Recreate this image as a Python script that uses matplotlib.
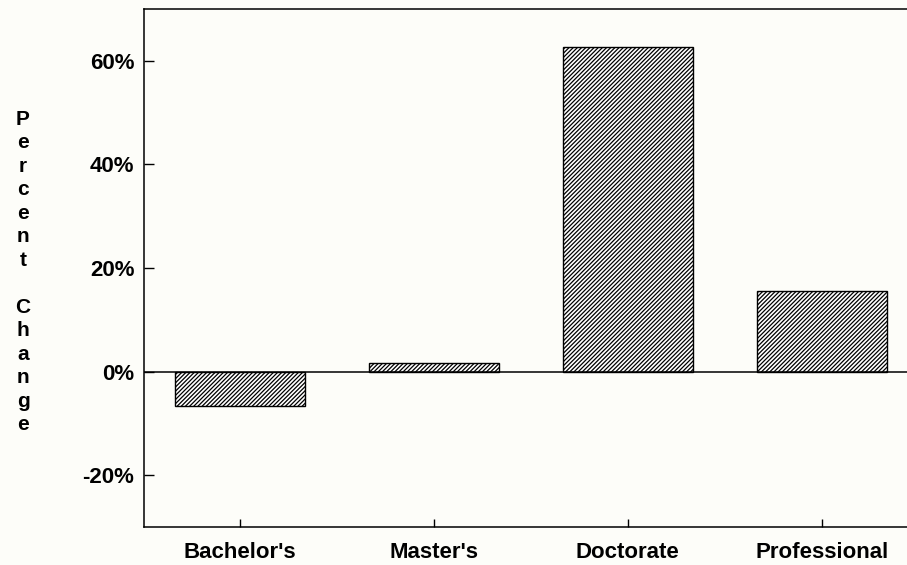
import matplotlib
matplotlib.use("Agg")
import matplotlib.pyplot as plt
from matplotlib.ticker import FuncFormatter

# data
degrees = ["Bachelor's", "Master's", "Doctorate", "Professional"]
pctChange = [-6.7, 1.7, 62.6, 15.6]
yTicks = [-20, 0, 20, 40, 60]

plt.rcParams['font.family'] = ['Liberation Sans', 'DejaVu Sans']
plt.rcParams['font.weight'] = 'bold'
plt.rcParams['hatch.linewidth'] = 0.9

bg = "#fdfdf9"
fig = plt.figure(figsize=(9.07, 5.65), dpi=100, facecolor=bg)
ax = fig.add_axes([144/907, 38/565, 1 - 144/907, 518/565], facecolor=bg)

xs = range(len(degrees))
ax.bar(xs, pctChange, width=0.67, color="white", edgecolor="black",
       linewidth=1.0, hatch="////////", zorder=3)
ax.axhline(0, color="black", lw=1.1, zorder=4)

ax.set_xlim(-0.495, 3.44)
ax.set_ylim(-30, 70)
ax.set_xticks(list(xs))
ax.set_xticklabels(degrees, fontsize=16, fontweight='bold')
ax.set_yticks(yTicks)
ax.yaxis.set_major_formatter(FuncFormatter(lambda v, p: "%d%%" % v))
for lbl in ax.get_yticklabels():
    lbl.set_fontsize(16)
    lbl.set_fontweight('bold')

ax.tick_params(axis='y', direction='in', length=7, width=1, pad=7)
ax.tick_params(axis='x', direction='in', length=6, width=1, pad=11)

ax.spines['right'].set_visible(False)
for s in ['left', 'bottom', 'top']:
    ax.spines[s].set_linewidth(1.1)

ylab = "\n".join(list("Percent")) + "\n\n" + "\n".join(list("Change"))
fig.text(23/907, 1 - 272/565, ylab, fontsize=15, fontweight='bold',
         ha='center', va='center', linespacing=1.3)

fig.savefig("out.png", dpi=100, facecolor=bg)
